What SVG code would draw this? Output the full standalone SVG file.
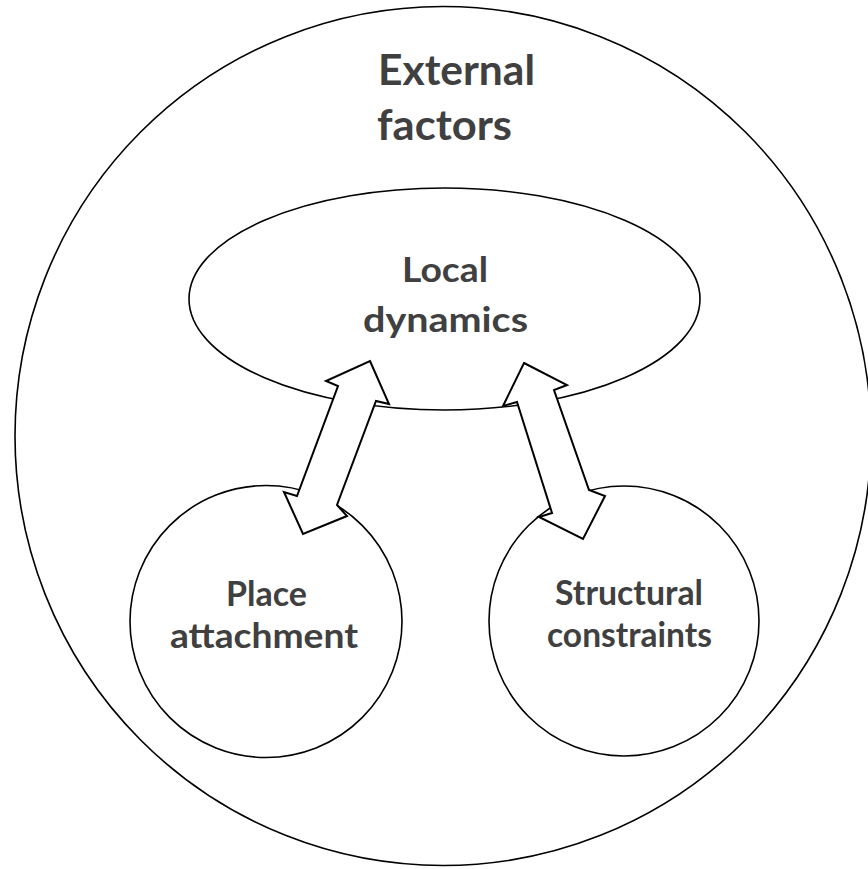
<svg xmlns="http://www.w3.org/2000/svg" width="868" height="869" viewBox="0 0 868 869">
  <style>
    .shape { fill: #ffffff; stroke: #000000; stroke-width: 1.6; }
    .arrow { fill: #ffffff; stroke: #000000; stroke-width: 2; stroke-linejoin: miter; }
    .lbl { font-family: Lato, "Open Sans", "Liberation Sans", sans-serif; font-weight: bold; fill: #404040; }
    .big { font-size: 42px; }
    .mid { font-size: 35px; }
  </style>
  <rect x="0" y="0" width="868" height="869" fill="#ffffff"/>
  <g id="external-factors">
    <ellipse class="shape" cx="443" cy="436" rx="428" ry="429.5"/>
    <text class="lbl big" x="378" y="85" textLength="157" lengthAdjust="spacingAndGlyphs">External</text>
    <text class="lbl big" x="377" y="140" textLength="135" lengthAdjust="spacingAndGlyphs">factors</text>
  </g>
  <g id="local-dynamics">
    <ellipse class="shape" cx="444.5" cy="299" rx="255.5" ry="111"/>
    <text class="lbl mid" x="402" y="282" textLength="86" lengthAdjust="spacingAndGlyphs">Local</text>
    <text class="lbl mid" x="363" y="332" textLength="165" lengthAdjust="spacingAndGlyphs">dynamics</text>
  </g>
  <g id="place-attachment">
    <circle class="shape" cx="266" cy="621.5" r="136"/>
    <text class="lbl mid" x="226" y="606" textLength="81" lengthAdjust="spacingAndGlyphs">Place</text>
    <text class="lbl mid" x="170" y="648" textLength="188" lengthAdjust="spacingAndGlyphs">attachment</text>
  </g>
  <g id="structural-constraints">
    <circle class="shape" cx="624" cy="621" r="135"/>
    <text class="lbl mid" x="555" y="605" textLength="148" lengthAdjust="spacingAndGlyphs">Structural</text>
    <text class="lbl mid" x="547" y="647" textLength="165" lengthAdjust="spacingAndGlyphs">constraints</text>
  </g>
  <g id="connectors">
    <polygon class="arrow" points="370,361 389,404 376,401 337,505 347,516 303,534 284,492 297,496 338,386 326,381"/>
    <polygon class="arrow" points="524,363 567,385 554,390 589,490 605,496 583,539 539,517 552,513 517,402 503,406"/>
  </g>
</svg>
